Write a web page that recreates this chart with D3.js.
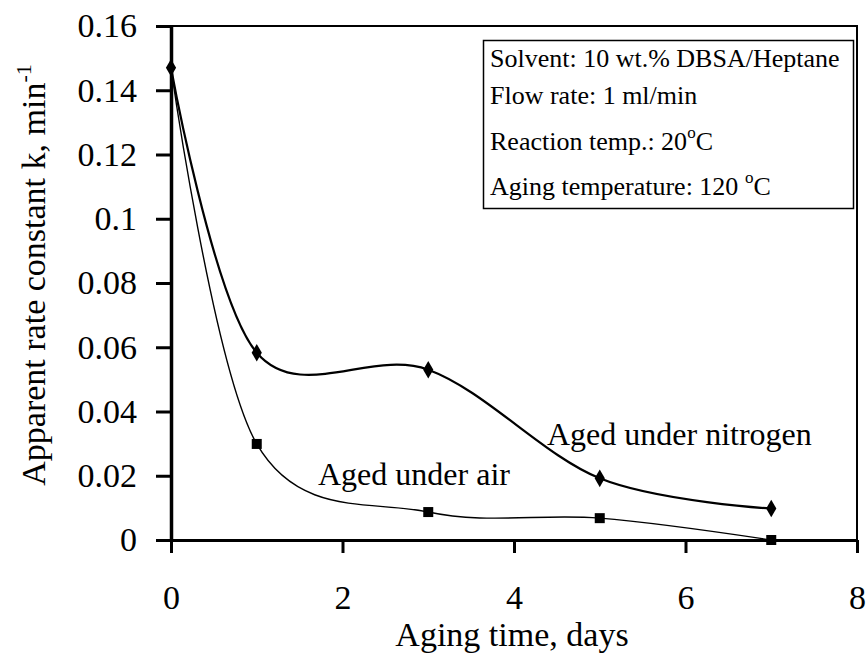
<!DOCTYPE html>
<html>
<head>
<meta charset="utf-8">
<script src="https://cdn.jsdelivr.net/npm/d3@7"></script>
<style>
  body { margin: 0; background: #fff; }
  svg { font-family: "Liberation Serif", "Times New Roman", serif; }
  .axis path, .axis line { stroke: #000; }
  .axis text { font-size: 34px; fill: #000; }
</style>
</head>
<body>
<svg width="868" height="654"></svg>
<script>
// data
var days = [0, 1, 3, 5, 7];
var kNitrogen = [0.147, 0.0583, 0.053, 0.0192, 0.0098];
var kAir = [0.147, 0.0299, 0.0087, 0.0068, 0.0];
var xTicks = [0, 2, 4, 6, 8];
var yTicks = [0, 0.02, 0.04, 0.06, 0.08, 0.1, 0.12, 0.14, 0.16];
var boxLines = ["Solvent: 10 wt.% DBSA/Heptane", "Flow rate: 1 ml/min", "Reaction temp.: 20", "Aging temperature: 120 "];

var svg = d3.select("svg"),
    margin = {top: 26, right: 11, bottom: 114, left: 171},
    width = +svg.attr("width") - margin.left - margin.right,
    height = +svg.attr("height") - margin.top - margin.bottom,
    serif = "'Liberation Serif', 'Times New Roman', serif";

var x = d3.scaleLinear().domain([0, 8]).range([0, width]);
var y = d3.scaleLinear().domain([0, 0.16]).range([height, 0]);

var chart = svg.append("g")
    .attr("transform", "translate(" + margin.left + "," + margin.top + ")");

// frame (top and right)
chart.append("path")
    .attr("d", "M0,0H" + width + "V" + height)
    .attr("fill", "none")
    .attr("stroke", "#000")
    .attr("stroke-width", 2);

// axes
chart.append("g")
    .attr("class", "x axis")
    .attr("transform", "translate(0," + height + ")")
    .call(d3.axisBottom(x).tickValues(xTicks).tickSize(13).tickSizeOuter(0).tickPadding(32).tickFormat(d3.format("d")))
    .attr("font-family", serif)
    .attr("font-size", 34)
    .call(function(g) {
      g.select(".domain").attr("stroke-width", 3);
      g.selectAll(".tick line").attr("stroke-width", 3);
    });

chart.append("g")
    .attr("class", "y axis")
    .call(d3.axisLeft(y).tickValues(yTicks).tickSize(15).tickSizeOuter(0).tickPadding(19)
      .tickFormat(function(d) { return d === 0 ? "0" : String(+d.toFixed(2)); }))
    .attr("font-family", serif)
    .attr("font-size", 34)
    .call(function(g) {
      g.select(".domain").attr("stroke-width", 3.5);
      g.selectAll(".tick line").attr("stroke-width", 3);
    });

// axis labels
svg.append("text")
    .attr("x", 512)
    .attr("y", 646)
    .attr("text-anchor", "middle")
    .attr("font-size", 34)
    .text("Aging time, days");

var yLabel = svg.append("text")
    .attr("transform", "translate(45,275) rotate(-90)")
    .attr("text-anchor", "middle")
    .attr("font-size", 34);
yLabel.append("tspan").text("Apparent rate constant k, min");
yLabel.append("tspan").attr("font-size", 22).attr("dy", -14).text("-1");

// curves
var line = d3.line()
    .x(function(d) { return x(d[0]); })
    .y(function(d) { return y(d[1]); })
    .curve(d3.curveCardinal.tension(0));

var nitrogen = days.map(function(d, i) { return [d, kNitrogen[i]]; });
var air = days.map(function(d, i) { return [d, kAir[i]]; });

chart.append("path")
    .datum(air)
    .attr("d", line)
    .attr("fill", "none")
    .attr("stroke", "#000")
    .attr("stroke-width", 1.4);

chart.append("path")
    .datum(nitrogen)
    .attr("d", line)
    .attr("fill", "none")
    .attr("stroke", "#000")
    .attr("stroke-width", 2.2);

chart.selectAll(".sq")
    .data(air.slice(1))
  .enter().append("rect")
    .attr("class", "sq")
    .attr("x", function(d) { return x(d[0]) - 5; })
    .attr("y", function(d) { return y(d[1]) - 5; })
    .attr("width", 10)
    .attr("height", 10)
    .attr("fill", "#000");

chart.selectAll(".dia")
    .data(nitrogen)
  .enter().append("path")
    .attr("class", "dia")
    .attr("d", d3.symbol().type(d3.symbolDiamond).size(90))
    .attr("transform", function(d) { return "translate(" + x(d[0]) + "," + y(d[1]) + ")"; })
    .attr("fill", "#000");

// series labels
svg.append("text")
    .attr("x", 547).attr("y", 445)
    .attr("font-size", 32)
    .text("Aged under nitrogen");
svg.append("text")
    .attr("x", 318).attr("y", 485)
    .attr("font-size", 32)
    .text("Aged under air");

// conditions box
svg.append("rect")
    .attr("x", 483.5).attr("y", 40.5)
    .attr("width", 370).attr("height", 168)
    .attr("fill", "#fff")
    .attr("stroke", "#000")
    .attr("stroke-width", 1.5);

var baselines = [67, 104, 150, 195];
boxLines.forEach(function(s, i) {
  var t = svg.append("text")
      .attr("x", 490)
      .attr("y", baselines[i])
      .attr("font-size", 26)
      .text(s);
  if (i >= 2) {
    t.append("tspan").attr("font-size", 17).attr("dy", -12).text("o");
    t.append("tspan").attr("dy", 12).text("C");
  }
});
</script>
</body>
</html>
